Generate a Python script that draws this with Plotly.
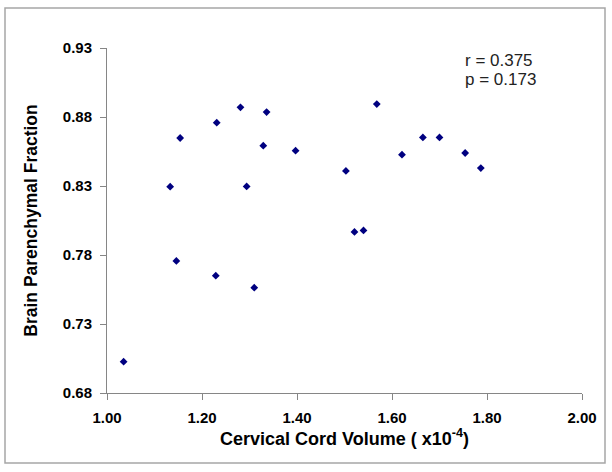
import plotly.graph_objects as go

# Data
cord_volume = [1.035, 1.133, 1.154, 1.146, 1.231, 1.229, 1.281, 1.294, 1.310, 1.329,
               1.336, 1.397, 1.503, 1.521, 1.540, 1.568, 1.621, 1.665, 1.700, 1.754, 1.787]
bpf = [0.7027, 0.8295, 0.8648, 0.7757, 0.8759, 0.7650, 0.8870, 0.8297, 0.7563, 0.8592,
       0.8836, 0.8556, 0.8409, 0.7967, 0.7978, 0.8894, 0.8527, 0.8652, 0.8652, 0.8539, 0.8430]

x_ticks = [1.0, 1.2, 1.4, 1.6, 1.8, 2.0]
y_ticks = [0.68, 0.73, 0.78, 0.83, 0.88, 0.93]
stats_lines = ["r = 0.375", "p = 0.173"]

FONT = "Liberation Sans, Arial, sans-serif"
AXIS_COLOR = "#868686"

fig = go.Figure()
fig.add_trace(go.Scatter(
    x=cord_volume, y=bpf, mode="markers",
    marker=dict(symbol="diamond", size=6, color="#000080"),
    showlegend=False,
))

fig.update_layout(
    width=612, height=472,
    margin=dict(l=107, r=30, t=48, b=79),
    paper_bgcolor="white", plot_bgcolor="white",
    font=dict(family=FONT, color="black"),
    xaxis=dict(
        range=[1.0, 2.0], tickvals=x_ticks, tickformat=".2f",
        showgrid=False, zeroline=False, showline=True, linecolor=AXIS_COLOR, linewidth=1,
        ticks="outside", ticklen=6, tickcolor=AXIS_COLOR, ticklabelstandoff=5,
        tickfont=dict(family=FONT, size=15, color="black", weight="bold"),
        title=dict(text="Cervical Cord Volume ( x10<sup>-4</sup>)", standoff=4,
                   font=dict(family=FONT, size=18, color="black", weight="bold")),
    ),
    yaxis=dict(
        range=[0.68, 0.93], tickvals=y_ticks, tickformat=".2f",
        showgrid=False, zeroline=False, showline=True, linecolor=AXIS_COLOR, linewidth=1,
        ticks="outside", ticklen=6, tickcolor=AXIS_COLOR, ticklabelstandoff=5,
        tickfont=dict(family=FONT, size=15, color="black", weight="bold"),
        title=dict(text="Brain Parenchymal Fraction", standoff=20,
                   font=dict(family=FONT, size=17.5, color="black", weight="bold")),
    ),
    shapes=[dict(type="rect", xref="paper", yref="paper",
                 x0=(5 - 107) / 475, x1=(605 - 107) / 475,
                 y0=(393 - 463) / 345, y1=(393 - 8) / 345,
                 line=dict(color="#a6a6a6", width=1.5), fillcolor="rgba(0,0,0,0)", layer="below")],
    annotations=[
        dict(text=stats_lines[0], xref="paper", yref="paper", x=0.749, y=(393 - 60) / 345,
             xanchor="left", yanchor="middle", showarrow=False,
             font=dict(family=FONT, size=17, color="#222222")),
        dict(text=stats_lines[1], xref="paper", yref="paper", x=0.749, y=(393 - 79) / 345,
             xanchor="left", yanchor="middle", showarrow=False,
             font=dict(family=FONT, size=17, color="#222222")),
    ],
)

# Remove the browser's default page margin so the figure sits at the window origin.
fig.write_html("out.html", config={"displayModeBar": False},
               post_script="document.body.style.margin='0';")
